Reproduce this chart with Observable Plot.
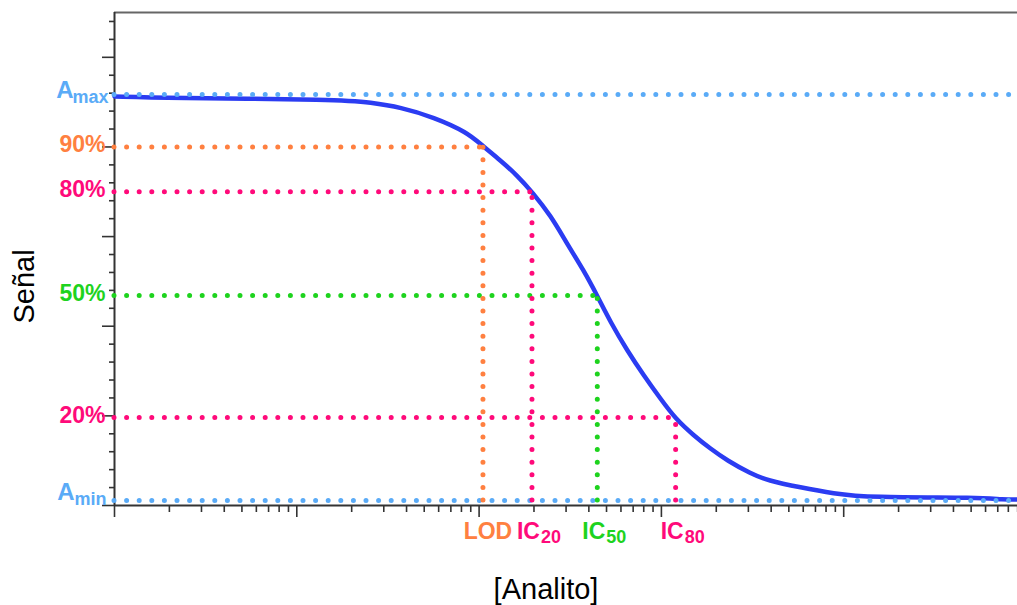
<!DOCTYPE html>
<html><head><meta charset="utf-8">
<script src="https://cdn.jsdelivr.net/npm/d3@7"></script>
<script src="https://cdn.jsdelivr.net/npm/@observablehq/plot@0.6"></script>
<style>body{margin:0;background:#fff}</style>
</head><body><div id="chart"></div>
<script>
// Sigmoid calibration curve
const curveConc = [1, 1.90, 17.4, 25.4, 37.1, 56.4, 86.1, 104, 131, 162, 196, 247, 304, 375, 444, 526, 649, 801, 989, 1195, 1506, 1860, 2296, 3083, 3821, 5797, 8793, 13510, 58480, 72530, 100000];
const curveSignal = [4.563, 4.546, 4.529, 4.496, 4.443, 4.332, 4.164, 4.016, 3.849, 3.681, 3.495, 3.235, 2.919, 2.622, 2.343, 2.045, 1.729, 1.450, 1.190, 0.967, 0.781, 0.633, 0.502, 0.357, 0.279, 0.201, 0.134, 0.089, 0.089, 0.067, 0.067];

// Signal levels (left labels)
const levelMain = ["A", "90%", "80%", "50%", "20%", "A"];
const levelSub = ["max", "", "", "", "", "min"];
const levelValue = [4.585, 4.0, 3.5, 2.343, 0.982, 0.056];
const levelColor = ["#5aabf7", "#ff8040", "#ff0a7a", "#1ed31e", "#ff0a7a", "#5aabf7"];

// Concentration markers (bottom labels)
const markMain = ["LOD", "IC", "IC", "IC"];
const markSub = ["", "20", "50", "80"];
const markConc = [105, 195, 445, 1197];
const markLevel = [4.0, 3.5, 2.343, 0.982];
const markColor = ["#ff8040", "#ff0a7a", "#1ed31e", "#ff0a7a"];

// Axis ticks
const xMajorTicks = [1, 10, 100, 1000, 10000, 100000];
const xMinorTicks = [2, 3, 4, 5, 6, 7, 8, 9, 20, 30, 40, 50, 60, 70, 80, 90, 200, 300, 400, 500, 600, 700, 800, 900, 2000, 3000, 4000, 5000, 6000, 7000, 8000, 9000, 20000, 30000, 40000, 50000, 60000, 70000, 80000, 90000];
const yMajorTicks = [0, 1, 2, 3, 4, 5];
const yMinorTicks = [0.2, 0.4, 0.6, 0.8, 1.2, 1.4, 1.6, 1.8, 2.2, 2.4, 2.6, 2.8, 3.2, 3.4, 3.6, 3.8, 4.2, 4.4, 4.6, 4.8, 5.2, 5.4];
const xTitle = "[Analito]";
const yTitle = "Señal";

const curve = curveConc.map((c, i) => ({c, s: curveSignal[i]}));
const levels = levelMain.map((m, i) => ({main: m, sub: levelSub[i], v: levelValue[i], color: levelColor[i]}));
const markers = markMain.map((m, i) => ({main: m, sub: markSub[i], c: markConc[i], v: markLevel[i], color: markColor[i]}));
const amin = levelValue[5];

const dots = {strokeWidth: 5, strokeLinecap: "round", strokeDasharray: "0 12.6"};
const axisStyle = {tickFormat: () => "", label: null, stroke: "#333", strokeWidth: 1.6};
const col = d => d.color;
const lbl = {fontWeight: "bold", fill: col, lineAnchor: "middle"};

const chart = Plot.plot({
  width: 1017, height: 605,
  marginLeft: 114, marginRight: 0, marginTop: 12, marginBottom: 100,
  style: {fontFamily: "Liberation Sans, Arial, sans-serif", background: "#fff", overflow: "visible"},
  x: {type: "log", domain: [1, 1e5], range: [114, 1025.5]},
  y: {domain: [0, 5.5], range: [505, 12]},
  color: {type: "identity"},
  marks: [
    Plot.axisX({ticks: xMinorTicks, tickSize: 7, ...axisStyle}),
    Plot.axisX({ticks: xMajorTicks, tickSize: 12, ...axisStyle}),
    Plot.axisY({ticks: yMinorTicks, tickSize: 5, ...axisStyle}),
    Plot.axisY({ticks: yMajorTicks, tickSize: 12, ...axisStyle}),
    Plot.ruleY([0], {stroke: "#333", strokeWidth: 2}),
    Plot.ruleY([5.5], {stroke: "#666", strokeWidth: 2}),
    Plot.ruleX([1], {stroke: "#333", strokeWidth: 2}),
    Plot.line(curve, {x: "c", y: "s", stroke: "#2b3cf2", strokeWidth: 4.5, curve: "basis"}),
    Plot.ruleY(levels.filter(d => d.sub), {y: "v", stroke: col, ...dots}),
    Plot.ruleY(markers, {y: "v", x1: 1, x2: "c", stroke: col, ...dots}),
    Plot.ruleX(markers, {x: "c", y1: amin, y2: "v", stroke: col, ...dots}),
    // Left labels
    Plot.text(levels.filter(d => !d.sub), {x: 1, y: "v", text: "main", textAnchor: "end", dx: -9, dy: -2, fontSize: 23, ...lbl}),
    Plot.text(levels.filter(d => d.sub === "max"), {x: 1, y: "v", text: "main", textAnchor: "end", dx: -41, dy: -4.5, fontSize: 24, ...lbl}),
    Plot.text(levels.filter(d => d.sub === "max"), {x: 1, y: "v", text: "sub", textAnchor: "start", dx: -42, dy: 2.5, fontSize: 18, ...lbl}),
    Plot.text(levels.filter(d => d.sub === "min"), {x: 1, y: "v", text: "main", textAnchor: "end", dx: -40, dy: -8.5, fontSize: 24, ...lbl}),
    Plot.text(levels.filter(d => d.sub === "min"), {x: 1, y: "v", text: "sub", textAnchor: "start", dx: -40, dy: -1.5, fontSize: 18, ...lbl}),
    // Bottom labels
    Plot.text(markers.filter(d => !d.sub), {x: "c", frameAnchor: "bottom", text: "main", textAnchor: "middle", dx: 5, dy: 26, fontSize: 23, ...lbl}),
    Plot.text(markers.filter(d => d.sub), {x: "c", frameAnchor: "bottom", text: "main", textAnchor: "end", dx: 8, dy: 26, fontSize: 23, ...lbl}),
    Plot.text(markers.filter(d => d.sub), {x: "c", frameAnchor: "bottom", text: "sub", textAnchor: "start", dx: 9, dy: 32, fontSize: 18, ...lbl}),
    // Titles
    Plot.text([yTitle], {frameAnchor: "left", text: d => d, rotate: -90, textAnchor: "middle", lineAnchor: "middle", dx: -90, dy: 27.5, fontSize: 29, fill: "#000"}),
    Plot.text([xTitle], {frameAnchor: "bottom", text: d => d, textAnchor: "middle", lineAnchor: "middle", dx: -20, dy: 84, fontSize: 29, fill: "#000"})
  ]
});
document.getElementById("chart").append(chart);
</script>
</body></html>
